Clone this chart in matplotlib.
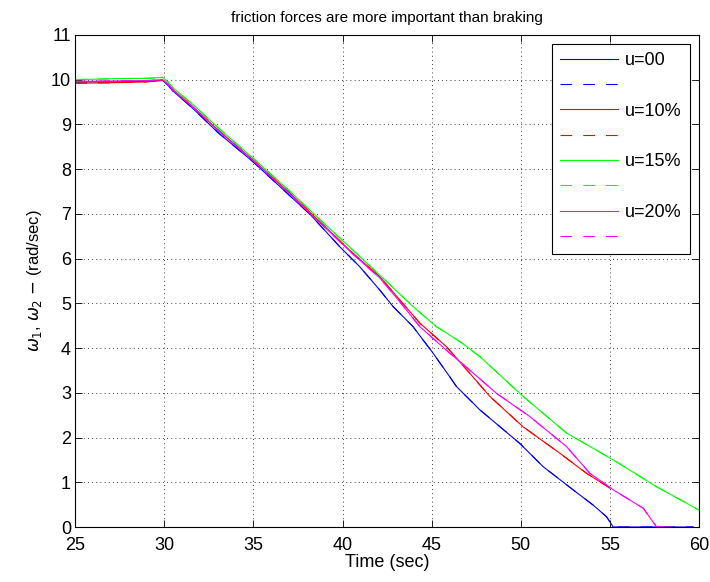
import numpy as np
import matplotlib.pyplot as plt

plt.rcParams['font.family'] = ['Liberation Sans', 'DejaVu Sans']

# time (sec) / speed (rad/sec)
t_u00 = [25, 27, 29, 29.9, 30.2, 30.47, 31.59, 33, 34.96, 37, 38.2, 39.83, 40.96, 42.08, 42.83,
         43.95, 45.07, 46.01, 46.39, 47.70, 49.94, 51.25, 52.94, 54.06, 54.81, 55.19, 57, 59.68]
w_u00 = [9.95, 9.95, 9.96, 9.98, 9.88, 9.75, 9.36, 8.82, 8.17, 7.42, 6.98, 6.27, 5.82, 5.30, 4.93,
         4.48, 3.89, 3.36, 3.14, 2.62, 1.87, 1.35, 0.83, 0.49, 0.23, 0.0, 0.0, 0.0]

t_u10 = [25, 27, 29, 29.9, 30.2, 30.47, 31.59, 33, 34.96, 37, 38.71, 40.58, 42.08, 43.2, 44.33,
         45.83, 47.13, 48.26, 50.13, 52.19, 53.69, 55.0]
w_u10 = [9.92, 9.93, 9.95, 9.99, 9.9, 9.78, 9.40, 8.88, 8.21, 7.48, 6.83, 6.12, 5.60, 5.08, 4.56,
         4.03, 3.44, 2.92, 2.24, 1.65, 1.20, 0.87]

t_u15 = [25, 27, 29, 29.9, 30.2, 30.47, 31.59, 33, 34.96, 37, 38.71, 40.5, 42.46, 43.95, 45.26,
         46.57, 47.70, 50.13, 52.57, 55.19, 57.62, 60.0]
w_u15 = [10.0, 10.02, 10.03, 10.05, 9.95, 9.82, 9.45, 8.93, 8.25, 7.52, 6.88, 6.22, 5.49, 4.93,
         4.48, 4.15, 3.81, 2.92, 2.10, 1.50, 0.90, 0.38]

t_u20 = [25, 27, 29, 29.9, 30.2, 30.47, 31.59, 33, 34.96, 37, 38.71, 40.58, 42.08, 43.2, 44.33,
         45.83, 47.13, 48.63, 50.5, 52.56, 53.88, 55.19, 56.87, 57.62, 58.47]
w_u20 = [9.96, 9.97, 9.98, 10.0, 9.9, 9.77, 9.39, 8.87, 8.2, 7.46, 6.81, 6.1, 5.57, 5.04, 4.48,
         3.95, 3.51, 2.99, 2.47, 1.80, 1.20, 0.83, 0.42, 0.0, 0.0]

labels = ['u=00', 'u=10%', 'u=15%', 'u=20%']
colors = ['#0000ff', '#ff0000', '#00ff00', '#ff00ff']
series = [(t_u00, w_u00), (t_u10, w_u10), (t_u15, w_u15), (t_u20, w_u20)]

fig = plt.figure(figsize=(7.1, 5.82), dpi=100)
ax = fig.add_axes([0.106, 0.0945, 0.8785, 0.8455])

handles = []
leg_labels = []
for (t, w), lab, c in zip(series, labels, colors):
    h1, = ax.plot(t, w, color=c, lw=0.8)
    h2, = ax.plot(t, w, color=c, lw=0.8, ls=(0, (10.5, 10)))
    handles += [h1, h2]
    leg_labels += [lab, ' ']

ax.set_xlim(25, 60)
ax.set_ylim(0, 11)
ax.set_xticks(range(25, 61, 5))
ax.set_yticks(range(0, 12))
ax.grid(True, color='black', ls=(0, (1, 4)), lw=0.6)
ax.tick_params(direction='in', top=True, right=True, labelsize=13, length=5, width=0.6)
ax.tick_params(axis='x', pad=7)
ax.tick_params(axis='y', pad=3)
for s in ax.spines.values():
    s.set_linewidth(0.8)

ax.set_xlabel('Time (sec)', fontsize=13, labelpad=0)
ax.set_ylabel(r'$\omega_1$, $\omega_2$ $-$ (rad/sec)', fontsize=12, labelpad=5)
ax.set_title('friction forces are more important than braking', fontsize=11, pad=9)

leg = ax.legend(handles, leg_labels, loc='upper right', fontsize=13, handlelength=3.2,
                labelspacing=0.46, fancybox=False, edgecolor='black', framealpha=1,
                borderaxespad=0.5, handletextpad=0.4, borderpad=0.45)
leg.get_frame().set_linewidth(0.8)

fig.savefig('out.png', dpi=100)
